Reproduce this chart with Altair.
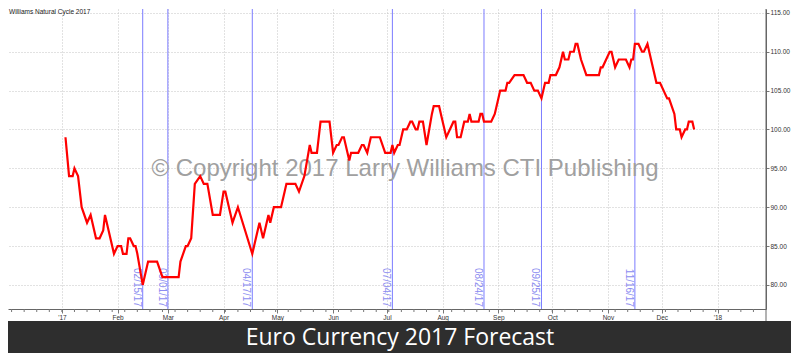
import altair as alt
import pandas as pd

# ---- data ----
dates = [
    "2017-01-03", "2017-01-05", "2017-01-07", "2017-01-08", "2017-01-10", "2017-01-12",
    "2017-01-15", "2017-01-17", "2017-01-18", "2017-01-20", "2017-01-22", "2017-01-24",
    "2017-01-25", "2017-01-27", "2017-01-30", "2017-02-01", "2017-02-03", "2017-02-04",
    "2017-02-06", "2017-02-07", "2017-02-08", "2017-02-10", "2017-02-11", "2017-02-12",
    "2017-02-15", "2017-02-18", "2017-02-23", "2017-02-26", "2017-03-07", "2017-03-08",
    "2017-03-11", "2017-03-12", "2017-03-14", "2017-03-16", "2017-03-19", "2017-03-21",
    "2017-03-23", "2017-03-26", "2017-03-30", "2017-04-01", "2017-04-02", "2017-04-04",
    "2017-04-06", "2017-04-09", "2017-04-13", "2017-04-17", "2017-04-19", "2017-04-21",
    "2017-04-23", "2017-04-25", "2017-04-26", "2017-04-27", "2017-04-29", "2017-05-03",
    "2017-05-05", "2017-05-06", "2017-05-11", "2017-05-13", "2017-05-16", "2017-05-19",
    "2017-05-20", "2017-05-23", "2017-05-25", "2017-05-30", "2017-06-01", "2017-06-03",
    "2017-06-04", "2017-06-06", "2017-06-07", "2017-06-10", "2017-06-11", "2017-06-15",
    "2017-06-17", "2017-06-18", "2017-06-20", "2017-06-22", "2017-06-27", "2017-06-30",
    "2017-07-03", "2017-07-04", "2017-07-05", "2017-07-07", "2017-07-08", "2017-07-10",
    "2017-07-12", "2017-07-14", "2017-07-15", "2017-07-17", "2017-07-18", "2017-07-19",
    "2017-07-21", "2017-07-23", "2017-07-26", "2017-07-27", "2017-07-30", "2017-08-01",
    "2017-08-03", "2017-08-05", "2017-08-07", "2017-08-08", "2017-08-09", "2017-08-11",
    "2017-08-13", "2017-08-15", "2017-08-16", "2017-08-17", "2017-08-21", "2017-08-22",
    "2017-08-23", "2017-08-24", "2017-08-28", "2017-08-30", "2017-09-01", "2017-09-02",
    "2017-09-05", "2017-09-06", "2017-09-07", "2017-09-10", "2017-09-15", "2017-09-17",
    "2017-09-19", "2017-09-21", "2017-09-23", "2017-09-25", "2017-09-27", "2017-09-29",
    "2017-09-30", "2017-10-03", "2017-10-05", "2017-10-07", "2017-10-08", "2017-10-10",
    "2017-10-11", "2017-10-13", "2017-10-14", "2017-10-15", "2017-10-17", "2017-10-20",
    "2017-10-27", "2017-10-28", "2017-10-29", "2017-10-31", "2017-11-02", "2017-11-03",
    "2017-11-05", "2017-11-07", "2017-11-11", "2017-11-13", "2017-11-14", "2017-11-15",
    "2017-11-16", "2017-11-18", "2017-11-20", "2017-11-21", "2017-11-23", "2017-11-25",
    "2017-11-28", "2017-11-30", "2017-12-04", "2017-12-05", "2017-12-08", "2017-12-09",
    "2017-12-11", "2017-12-12", "2017-12-14", "2017-12-15", "2017-12-16", "2017-12-18",
    "2017-12-19",
]
values = [
    99, 94, 94, 95, 94, 90,
    88, 89, 88, 86, 86, 87,
    89, 87, 84, 85, 85, 84,
    84, 86, 86, 85, 85, 84,
    80, 83, 83, 81, 81, 83,
    85, 85, 86, 93, 94, 93,
    93, 89, 89, 92, 92, 90,
    88, 90, 87, 84, 86, 88,
    86, 88, 89, 88, 90, 90,
    92, 93, 93, 92, 94, 98,
    97, 97, 101, 101, 97, 98,
    98, 99, 99, 96, 97, 97,
    98, 98, 97, 99, 99, 97,
    97, 98, 97, 98, 98, 100,
    100, 101, 101, 100, 100, 101,
    101, 98, 102, 103, 103, 101,
    99, 100, 101, 101, 99, 99,
    101, 101, 102, 101, 101, 102,
    102, 101, 101, 102, 104, 105,
    105, 106, 106, 107, 107, 106,
    106, 105, 105, 104, 106, 106,
    107, 107, 108, 110, 109, 109,
    110, 110, 111, 111, 109, 107,
    107, 108, 108, 109, 110, 110,
    108, 109, 109, 108, 109, 109,
    111, 111, 110, 110, 111, 109,
    106, 106, 104, 104, 102, 100,
    100, 99, 100, 100, 101, 101,
    100,
]

event_dates = ["2017-02-15", "2017-03-01", "2017-04-17", "2017-07-04",
               "2017-08-24", "2017-09-25", "2017-11-16"]
event_labels = ["02/15/17", "03/01/17", "04/17/17", "07/04/17",
                "08/24/17", "09/25/17", "11/16/17"]

y_ticks = [80, 85, 90, 95, 100, 105, 110, 115]
month_ticks = [alt.DateTime(year=2017, month=m, date=1, utc=True) for m in range(1, 13)] + \
              [alt.DateTime(year=2018, month=1, date=1, utc=True)]

top_label = "Williams Natural Cycle 2017"
watermark = "\u00a9 Copyright 2017 Larry Williams CTI Publishing"
title_text = "Euro Currency 2017 Forecast"

# ---- frames ----
line_df = pd.DataFrame({"date": dates, "value": values})
ev_df = pd.DataFrame({"date": event_dates, "label": event_labels})
week_df = pd.DataFrame({"date": [d.strftime("%Y-%m-%d")
                                 for d in pd.date_range("2016-12-04", "2018-01-21", freq="7D")]})

W, H = 758, 300

x_scale = alt.Scale(
    type="utc",
    domain=[alt.DateTime(year=2016, month=12, date=2, utc=True),
            alt.DateTime(year=2018, month=1, date=28, utc=True)],
)
x_axis = alt.Axis(
    values=month_ticks,
    labelExpr="utcmonth(datum.value) == 0 ? \"'\" + utcFormat(datum.value, '%y') : utcFormat(datum.value, '%b')",
    title=None, grid=True, gridColor="#c4c4c4", gridDash=[1, 2],
    tickSize=4, tickColor="#777777", domainColor="#666666",
    labelFontSize=6.5, labelColor="#333333", labelFont="Liberation Sans",
    labelPadding=1, labelFlush=False, labelOverlap=False,
)


def X():
    return alt.X("date:T", scale=x_scale, axis=x_axis)


y_scale = alt.Scale(domain=[76.9, 115.5], nice=False, zero=False)
y_axis = alt.Axis(
    orient="right", values=y_ticks, format=".2f", title=None,
    grid=True, gridColor="#c4c4c4", gridDash=[1, 2],
    tickSize=3, tickColor="#777777", domainColor="#666666",
    labelFontSize=6.5, labelColor="#333333", labelFont="Liberation Sans",
    labelPadding=1,
)

weeks = alt.Chart(week_df).mark_rule(color="#777777").encode(
    x=X(), y=alt.value(H), y2=alt.value(H + 3))

ev_rules = alt.Chart(ev_df).mark_rule(color="#7c7cff", strokeWidth=1).encode(x=X())

ev_text = alt.Chart(ev_df).mark_text(
    angle=90, align="right", baseline="top", fontSize=10,
    color="#8c8cf0", font="Liberation Sans", dy=1,
).encode(x=X(), y=alt.value(H - 2), text="label:N")

wm = alt.Chart(pd.DataFrame({"t": [watermark]})).mark_text(
    fontSize=24, color="#a0a0a0", font="Liberation Sans",
    align="center", baseline="middle",
).encode(x=alt.value(397), y=alt.value(160), text="t:N")

line = alt.Chart(line_df).mark_line(color="#ff0000", strokeWidth=2.2).encode(
    x=X(), y=alt.Y("value:Q", scale=y_scale, axis=y_axis))

right_rule = alt.Chart(pd.DataFrame({"a": [0]})).mark_rule(color="#666666").encode(
    x=alt.value(W), y=alt.value(0), y2=alt.value(H + 12))

band = alt.Chart(pd.DataFrame({"a": [0]})).mark_rect(color="#2e2e2e").encode(
    x=alt.value(0), x2=alt.value(783), y=alt.value(H + 12), y2=alt.value(H + 44))

band_title = alt.Chart(pd.DataFrame({"t": [title_text]})).mark_text(
    fontSize=23, color="white", font="Open Sans", align="center", baseline="middle",
).encode(x=alt.value(392), y=alt.value(H + 29), text="t:N")

tl = alt.Chart(pd.DataFrame({"t": [top_label]})).mark_text(
    fontSize=6.5, color="#222222", font="Liberation Sans", align="left", baseline="top",
).encode(x=alt.value(1), y=alt.value(0), text="t:N")

chart = alt.layer(
    weeks, ev_rules, ev_text, wm, line, right_rule, band, band_title, tl
).properties(
    width=W, height=H, padding=0, background="white"
).configure_view(stroke=None)

chart.save("out.html", embed_options={"renderer": "svg", "actions": False})
